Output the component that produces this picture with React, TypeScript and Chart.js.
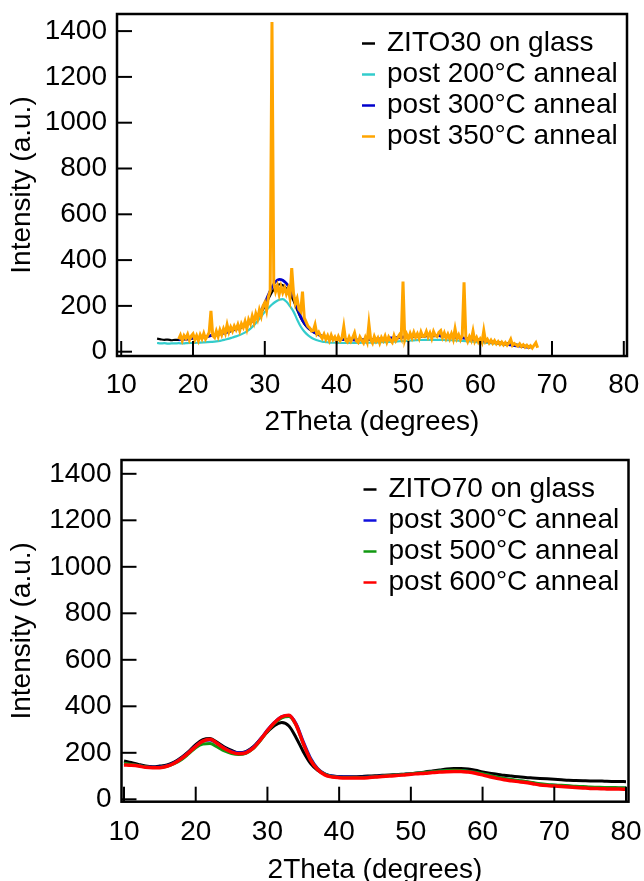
import React, { useEffect, useRef } from "react";
import { Chart, registerables } from "chart.js";

Chart.register(...registerables);

const FONT = "'Liberation Sans', Arial, Helvetica, sans-serif";
const FS = 28;

// ---- ticks ----
const X_TICKS = [10, 20, 30, 40, 50, 60, 70, 80];
const Y_TICKS = [0, 200, 400, 600, 800, 1000, 1200, 1400];

// ---- top panel (ZITO30) ----
const TOP_LABELS = ["ZITO30 on glass", "post 200°C anneal", "post 300°C anneal", "post 350°C anneal"];
const ZITO30_START = 15;
const ZITO30_STEP = 0.5;
const ZITO30_GLASS = [
  57, 54, 52, 53, 50, 52, 51, 54, 55, 56, 59, 60, 62, 65, 66, 70, 72, 74, 79, 82,
  87, 93, 97, 103, 110, 117, 127, 139, 152, 172, 198, 230, 260, 283, 294, 290, 276, 252, 222, 183,
  148, 122, 104, 91, 81, 73, 67, 63, 59, 57, 56, 54, 55, 53, 52, 53, 51, 52, 53, 52,
  54, 55, 54, 56, 57, 58, 60, 59, 61, 63, 62, 64, 65, 67, 66, 68, 69, 68, 70, 67,
  68, 66, 65, 63, 62, 61, 59, 57, 55, 54, 51, 49, 47, 45, 43, 41, 39, 37, 35, 33,
  31, 29, 27, 25, 23,
];
const A200_START = 15;
const A200_STEP = 0.5;
const ZITO30_200C = [
  38, 36, 37, 35, 36, 36, 37, 36, 37, 38, 38, 39, 40, 41, 42, 43, 44, 46, 49, 53,
  57, 62, 67, 73, 80, 89, 101, 116, 134, 154, 174, 191, 206, 218, 227, 230, 219, 199, 175, 141,
  110, 88, 72, 61, 53, 48, 44, 42, 40, 39, 39, 38, 38, 38, 38, 38, 38, 39, 39, 39,
  40, 40, 41, 42, 42, 43, 44, 45, 46, 47, 48, 49, 50, 51, 51, 52, 52, 52, 52, 52,
  51, 50, 50, 49, 48, 47, 46, 45, 44, 42, 41, 40, 38, 37, 36, 34, 33, 32, 31, 30,
  29,
];
const A300_START = 18;
const A300_STEP = 0.5;
const ZITO30_300C = [
  52, 54, 55, 57, 59, 61, 63, 65, 67, 70, 73, 76, 80, 84, 88, 93, 98, 104, 111, 120,
  130, 142, 158, 180, 212, 248, 282, 306, 316, 312, 298, 275, 240, 195, 153, 125, 106, 93, 82, 74,
  68, 63, 60, 57, 55, 54, 53, 52, 52, 51, 51, 52, 52, 53, 54, 55, 56, 57, 58, 60,
  61, 62, 64, 65, 66, 67, 68, 69, 70, 70, 71, 72, 71, 70, 69, 67, 66, 64, 62, 60,
  58, 56, 54, 52, 50, 47, 45, 42, 40, 38, 35, 33, 31, 28, 26, 24, 22, 20, 18,
];
const A350_START = 18;
const A350_STEP = 0.25;
const ZITO30_350C = [
  55, 72, 48, 70, // 18
  58, 76, 50, 68, // 19
  78, 52, 70, 48, // 20
  74, 56, 80, 55, // 21
  68, 84, 178, 70, // 22
  62, 90, 66, 95, // 23
  74, 100, 80, 118, // 24
  86, 108, 90, 112, // 25
  96, 118, 92, 122, // 26
  106, 132, 100, 140, // 27
  122, 156, 128, 166, // 28
  142, 182, 156, 200, // 29
  215, 180, 240, 265, // 30
  1440, 300, 262, 288, // 31
  250, 285, 258, 280, // 32
  252, 275, 235, 365, // 33
  255, 210, 232, 185, // 34
  175, 262, 148, 130, // 35
  112, 104, 90, 92, // 36
  118, 76, 86, 70, // 37
  58, 76, 54, 70, // 38
  48, 72, 52, 64, // 39
  44, 66, 48, 60, // 40
  110, 50, 42, 64, // 41
  46, 62, 82, 48, // 42
  40, 64, 50, 38, // 43
  62, 42, 122, 52, // 44
  38, 66, 46, 60, // 45
  38, 62, 48, 68, // 46
  42, 64, 50, 40, // 47
  70, 48, 62, 74, // 48
  58, 306, 52, 76, // 49
  56, 80, 60, 84, // 50
  62, 78, 58, 86, // 51
  66, 68, 88, 64, // 52
  82, 58, 88, 70, // 53
  66, 84, 92, 62, // 54
  82, 58, 76, 56, // 55
  78, 54, 100, 58, // 56
  74, 52, 70, 303, // 57
  62, 44, 66, 50, // 58
  90, 46, 62, 42, // 59
  56, 40, 92, 44, // 60
  54, 38, 50, 36, // 61
  48, 34, 44, 32, // 62
  42, 30, 40, 28, // 63
  38, 54, 28, 36, // 64
  30, 24, 34, 22, // 65
  30, 20, 28, 18, // 66
  26, 16, 28, 39, // 67
  17, // 68
];

// ---- bottom panel (ZITO70) ----
const BOTTOM_LABELS = ["ZITO70 on glass", "post 300°C anneal", "post 500°C anneal", "post 600°C anneal"];
const B_START = 10;
const B_STEP = 1;
const ZITO70_GLASS = [
  165, 158, 150, 143, 140, 143, 148, 160, 180, 205, 235, 257, 262, 245, 225, 210, 200, 205, 225, 258,
  290, 318, 330, 315, 265, 205, 155, 125, 108, 100, 98, 97, 97, 98, 100, 101, 103, 105, 106, 108,
  110, 113, 118, 122, 126, 130, 132, 132, 130, 125, 118, 112, 108, 103, 100, 97, 94, 92, 90, 88,
  86, 84, 82, 81, 80, 79, 79, 78, 77, 77, 76,
];
const ZITO70_300C = [
  152, 149, 145, 140, 138, 139, 145, 157, 177, 202, 230, 250, 255, 240, 220, 206, 200, 204, 223, 258,
  298, 332, 356, 360, 325, 248, 178, 133, 110, 100, 97, 96, 95, 95, 96, 98, 100, 102, 104, 107,
  110, 112, 115, 118, 121, 123, 124, 123, 120, 115, 108, 101, 94, 88, 83, 79, 75, 70, 65, 62,
  60, 58, 56, 54, 52, 51, 50, 49, 48, 48, 47,
];
const ZITO70_500C = [
  155, 150, 145, 140, 137, 137, 142, 153, 170, 195, 222, 238, 240, 225, 208, 197, 193, 198, 218, 252,
  292, 327, 350, 356, 318, 240, 172, 130, 108, 98, 95, 94, 94, 94, 95, 97, 100, 102, 105, 107,
  110, 113, 116, 119, 122, 124, 125, 124, 121, 116, 110, 103, 96, 90, 85, 81, 77, 72, 67, 64,
  62, 60, 58, 56, 55, 53, 52, 51, 51, 50, 50,
];
const ZITO70_600C = [
  148, 146, 143, 138, 136, 136, 142, 155, 175, 200, 228, 250, 258, 240, 218, 203, 196, 200, 220, 255,
  295, 330, 355, 362, 320, 240, 170, 128, 105, 96, 93, 92, 92, 92, 93, 96, 98, 100, 102, 105,
  108, 110, 112, 115, 117, 119, 120, 120, 117, 112, 105, 97, 90, 84, 80, 76, 72, 67, 62, 59,
  57, 55, 53, 51, 49, 47, 46, 45, 44, 44, 43,
];

const toPoints = (x0: number, step: number, ys: number[]) =>
  ys.map((y, i) => ({ x: Math.round((x0 + i * step) * 1000) / 1000, y }));

const frameLegendPlugin = {
  id: "frameLegend",
  afterDraw(chart: any) {
    const { ctx, chartArea: a, scales } = chart;
    ctx.save();
    ctx.strokeStyle = "#000";
    ctx.lineWidth = 2;
    const tl = 15;
    scales.x.ticks.forEach((t: any) => {
      const px = scales.x.getPixelForValue(t.value);
      ctx.beginPath();
      ctx.moveTo(px, a.bottom);
      ctx.lineTo(px, a.bottom - tl);
      ctx.stroke();
    });
    scales.y.ticks.forEach((t: any) => {
      const py = scales.y.getPixelForValue(t.value);
      ctx.beginPath();
      ctx.moveTo(a.left, py);
      ctx.lineTo(a.left + tl, py);
      ctx.stroke();
    });
    ctx.lineWidth = 2.5;
    ctx.strokeRect(a.left, a.top, a.right - a.left, a.bottom - a.top);

    // legend inside plot, top right
    const lx = a.right - 265;
    const tx = a.right - 240;
    ctx.font = `${FS}px ${FONT}`;
    ctx.textBaseline = "middle";
    ctx.textAlign = "left";
    chart.data.datasets.forEach((ds: any, i: number) => {
      const y = a.top + 29.5 + i * 31;
      ctx.strokeStyle = ds.borderColor;
      ctx.lineWidth = 2.5;
      ctx.beginPath();
      ctx.moveTo(lx, y);
      ctx.lineTo(lx + 13, y);
      ctx.stroke();
      ctx.fillStyle = "#000";
      ctx.fillText(ds.label, tx, y);
    });
    ctx.restore();
  },
};

type PanelOpts = {
  datasets: any[];
  xMin: number;
  xMax: number;
  yMin: number;
  yMax: number;
  padTop: number;
  padRight: number;
  yWidth: number;
  xHeight: number;
  xTitlePad: number;
  xTickPad: number;
};

function makeConfig(o: PanelOpts): any {
  return {
    type: "line",
    data: { datasets: o.datasets },
    options: {
      responsive: false,
      animation: false,
      devicePixelRatio: 1,
      layout: { padding: { top: o.padTop, right: o.padRight, left: 0, bottom: 0 } },
      plugins: { legend: { display: false }, tooltip: { enabled: false } },
      elements: { point: { radius: 0 } },
      scales: {
        x: {
          type: "linear",
          min: o.xMin,
          max: o.xMax,
          grid: { display: false, drawTicks: false },
          border: { display: false },
          afterBuildTicks: (s: any) => {
            s.ticks = X_TICKS.map((v) => ({ value: v }));
          },
          afterFit: (s: any) => {
            s.height = o.xHeight;
            s.paddingLeft = 0;
            s.paddingRight = 0;
          },
          ticks: {
            autoSkip: false,
            maxRotation: 0,
            padding: o.xTickPad,
            color: "#000",
            font: { family: FONT, size: FS },
            callback: (v: any) => String(v),
          },
          title: {
            display: true,
            text: "2Theta (degrees)",
            color: "#000",
            font: { family: FONT, size: FS },
            padding: { top: 0, bottom: o.xTitlePad },
          },
        },
        y: {
          type: "linear",
          min: o.yMin,
          max: o.yMax,
          grid: { display: false, drawTicks: false },
          border: { display: false },
          afterBuildTicks: (s: any) => {
            s.ticks = Y_TICKS.map((v) => ({ value: v }));
          },
          afterFit: (s: any) => {
            s.width = o.yWidth;
            s.paddingTop = 0;
            s.paddingBottom = 0;
          },
          ticks: {
            autoSkip: false,
            padding: 10,
            color: "#000",
            font: { family: FONT, size: FS },
            callback: (v: any) => String(v),
          },
          title: {
            display: true,
            text: "Intensity (a.u.)",
            color: "#000",
            font: { family: FONT, size: FS },
            padding: { top: 5, bottom: 0 },
          },
        },
      },
    },
    plugins: [frameLegendPlugin],
  };
}

const line = (label: string, color: string, pts: any[], width: number, order: number, smooth: boolean) => ({
  label,
  data: pts,
  borderColor: color,
  backgroundColor: color,
  borderWidth: width,
  pointRadius: 0,
  fill: false,
  order,
  tension: smooth ? 0.4 : 0,
  cubicInterpolationMode: smooth ? "monotone" : "default",
});

export default function App() {
  const topRef = useRef<HTMLCanvasElement | null>(null);
  const botRef = useRef<HTMLCanvasElement | null>(null);

  useEffect(() => {
    const top = new Chart(
      topRef.current as HTMLCanvasElement,
      makeConfig({
        datasets: [
          line(TOP_LABELS[0], "#000000", toPoints(ZITO30_START, ZITO30_STEP, ZITO30_GLASS), 2.2, 2, true),
          line(TOP_LABELS[1], "#33CCCC", toPoints(A200_START, A200_STEP, ZITO30_200C), 2.2, 3, true),
          line(TOP_LABELS[2], "#0000CC", toPoints(A300_START, A300_STEP, ZITO30_300C), 2.8, 1, true),
          line(TOP_LABELS[3], "#FFA500", toPoints(A350_START, A350_STEP, ZITO30_350C), 3, 0, false),
        ],
        xMin: 9.415,
        xMax: 80.446,
        yMin: -18.8,
        yMax: 1474.7,
        padTop: 14,
        padRight: 17,
        yWidth: 117,
        xHeight: 84,
        xTitlePad: 1,
        xTickPad: 12,
      })
    );
    const bot = new Chart(
      botRef.current as HTMLCanvasElement,
      makeConfig({
        datasets: [
          line(BOTTOM_LABELS[0], "#000000", toPoints(B_START, B_STEP, ZITO70_GLASS), 3, 3, true),
          line(BOTTOM_LABELS[1], "#1010DD", toPoints(B_START, B_STEP, ZITO70_300C), 3, 2, true),
          line(BOTTOM_LABELS[2], "#119911", toPoints(B_START, B_STEP, ZITO70_500C), 3, 1, true),
          line(BOTTOM_LABELS[3], "#FF0000", toPoints(B_START, B_STEP, ZITO70_600C), 3.5, 0, true),
        ],
        xMin: 9.651,
        xMax: 80.349,
        yMin: -10.3,
        yMax: 1459.4,
        padTop: 20,
        padRight: 15.5,
        yWidth: 121.5,
        xHeight: 79.3,
        xTitlePad: -6,
        xTickPad: 14,
      })
    );
    return () => {
      top.destroy();
      bot.destroy();
    };
  }, []);

  return (
    <div style={{ position: "absolute", left: 0, top: 0, width: 644, height: 881, background: "#fff" }}>
      <canvas ref={topRef} width={644} height={440} style={{ position: "absolute", left: 0, top: 0, width: 644, height: 440 }} />
      <canvas ref={botRef} width={644} height={441} style={{ position: "absolute", left: 0, top: 440, width: 644, height: 441 }} />
    </div>
  );
}
